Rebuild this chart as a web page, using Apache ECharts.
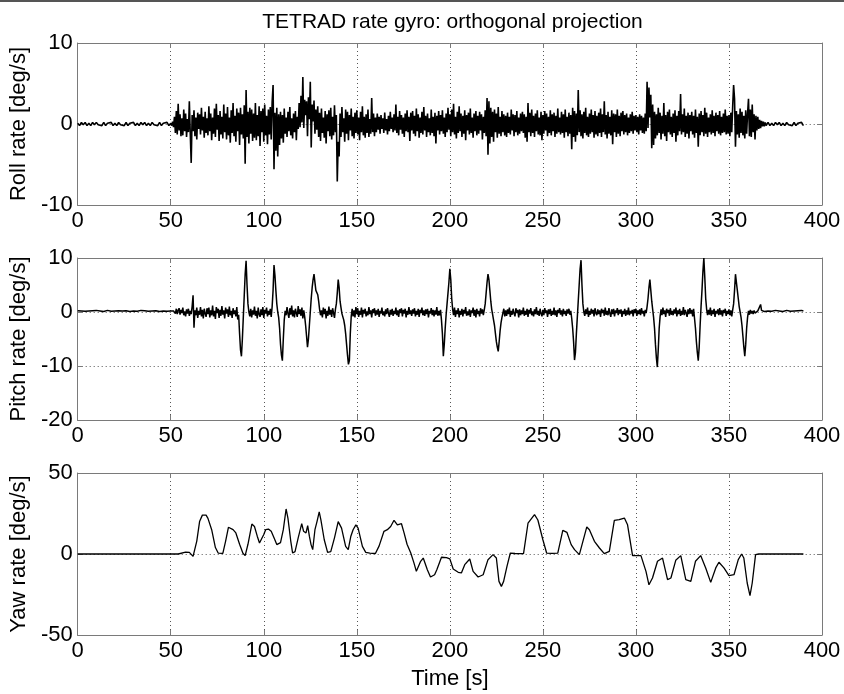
<!DOCTYPE html>
<html><head><meta charset="utf-8">
<script src="https://cdn.jsdelivr.net/npm/echarts@6/dist/echarts.min.js"></script>
<style>html,body{margin:0;padding:0;background:#fff}#c{width:844px;height:694px}</style>
</head><body><div id="c"></div>
<script>
// ---------- text ----------
const chartTitle = 'TETRAD rate gyro: orthogonal projection';
const yNames = ['Roll rate [deg/s]', 'Pitch rate [deg/s]', 'Yaw rate [deg/s]'];
const xName = 'Time [s]';

// ---------- axis ranges / ticks ----------
const xMin = 0, xMax = 400, xStep = 50;
const rollAxis = [-10, 10, 10];
const pitchAxis = [-20, 10, 10];
const yawAxis = [-50, 50, 50];

// ---------- roll rate ----------
// quiet part, t = 0..49 s, 1 s apart
const rollQuietHead = [0.1,-0.2,0.2,-0.1,0.2,-0.2,0.1,-0.2,0.2,-0.1,
 0.2,-0.1,0.1,-0.2,0.2,-0.2,0.1,-0.1,0.2,-0.2,
 0.1,-0.2,0.2,-0.1,0.1,-0.2,0.2,-0.2,0.1,-0.1,
 0.2,-0.2,0.1,-0.2,0.2,-0.1,0.2,-0.2,0.1,-0.2,
 0.2,-0.1,0.1,-0.2,0.2,-0.2,0.1,-0.1,0.2,-0.2];
// active part, t = 50..370 s, 0.5 s apart
const rollActive = [
 0.1,-0.2,0.3,-0.4,0.9,-1.1,1.6,-1.3,2.5,-0.8,1.2,-1.5,0.7,-1.4,1.8,-0.9,1.3,-1.6,0.6,-1.0,
 2.8,-1.2,-4.8,1.1,-0.9,1.7,-1.5,0.8,-1.9,1.4,-0.6,1.2,-1.3,2.0,-0.8,0.9,-1.7,1.5,-1.1,0.7,
 -1.4,2.2,-0.9,1.3,-2.0,0.8,-1.2,1.9,-1.6,2.5,-0.7,1.1,-2.1,1.6,-1.3,0.9,-1.8,2.4,-1.0,1.3,
 -1.9,2.1,-1.4,0.8,-2.3,1.7,-1.1,2.6,-1.5,1.0,-2.2,1.9,-0.9,1.4,-2.6,2.0,-1.3,1.2,-1.8,2.3,
 -4.9,4.2,-1.6,1.5,-2.4,2.0,-1.2,1.8,-2.1,1.3,-1.7,2.6,-2.0,1.1,-1.5,2.2,-2.7,1.6,-1.0,1.9,
 -2.2,2.4,-1.4,1.0,-2.5,1.8,-1.3,2.1,-1.9,2.7,4.8,-5.6,1.4,-3.3,2.0,-4.0,1.2,-2.6,1.5,-1.8,
 1.1,-2.3,1.9,-1.2,0.8,-1.6,1.5,-0.9,2.1,-1.4,0.7,-1.8,1.3,-1.0,1.6,-2.0,0.9,-0.6,2.6,-0.4,
 3.5,0.2,5.8,-0.5,3.0,1.1,2.8,-1.5,3.3,0.6,5.2,-2.9,2.4,0.3,2.9,-1.2,1.8,-0.7,2.2,-1.6,
 1.4,-2.1,1.9,-1.1,0.8,-1.7,1.6,-2.4,1.2,-0.9,1.7,-1.5,2.0,-1.9,0.9,-1.4,2.3,-1.0,1.1,-7.1,
 -2.2,-4.0,1.3,-1.6,2.1,-1.0,0.7,-2.2,1.8,-1.2,1.5,-2.0,1.1,-0.8,1.9,-1.5,0.9,-1.8,1.4,-1.1,
 1.7,-1.3,0.8,-2.0,1.5,-1.0,2.2,-1.4,0.9,-1.7,1.2,-1.1,1.8,-1.6,0.6,-1.2,3.2,-1.0,1.3,-1.5,
 0.8,-1.0,1.3,-0.7,0.9,-1.2,1.1,-0.6,0.7,-1.1,1.4,-0.8,0.6,-1.3,1.0,-0.9,1.5,-0.6,0.8,-1.0,
 1.2,-0.8,2.4,-1.1,0.9,-1.4,1.6,-0.7,1.1,-1.2,0.8,-1.6,1.3,-0.9,1.7,-1.0,0.9,-2.1,1.4,-0.8,
 1.6,-1.2,1.0,-1.5,1.9,-0.9,1.2,-1.7,0.8,-1.1,1.5,-1.3,2.1,-0.8,1.0,-1.6,1.3,-1.0,0.7,-1.4,
 1.8,-1.1,0.9,-1.5,1.4,-2.4,1.0,-0.8,1.6,-1.3,1.1,-0.9,1.7,-1.2,0.8,-1.6,1.3,-1.0,2.0,-0.7,
 1.2,-1.5,1.8,-1.0,2.5,-1.3,0.9,-1.8,1.5,-1.1,2.2,-0.9,1.3,-1.6,1.0,-1.2,1.7,-2.0,1.1,-0.8,
 1.4,-1.3,1.9,-1.1,0.8,-1.7,1.3,-0.9,1.6,-1.4,1.0,-1.2,1.5,-0.8,1.2,-1.9,0.9,-1.1,1.7,-1.5,
 3.2,-3.8,2.8,-2.4,2.0,-1.6,1.5,-2.2,1.8,-1.0,1.3,-1.7,2.1,-1.2,0.9,-1.5,1.6,-1.0,1.2,-1.4,
 1.0,-1.6,1.4,-1.1,0.9,-1.3,1.8,-0.8,1.2,-1.5,1.1,-1.0,1.6,-1.4,0.8,-1.2,1.3,-0.9,1.5,-1.1,
 1.2,-1.7,0.9,-2.2,2.6,-1.0,1.4,-1.5,1.8,-1.1,1.0,-1.6,1.3,-0.9,1.7,-1.3,0.8,-1.4,1.5,-2.0,
 1.1,-1.2,1.6,-0.8,1.3,-1.5,0.9,-1.1,1.7,-1.4,1.2,-0.9,1.4,-1.6,1.0,-1.2,1.9,-1.0,0.8,-1.3,
 1.5,-1.1,1.2,-1.7,1.8,-1.0,0.9,-1.5,1.4,-1.2,1.1,-3.1,2.0,-1.6,1.6,-2.2,1.3,-1.4,4.2,-1.0,
 1.7,-1.5,1.2,-1.8,1.5,-1.1,2.0,-1.4,0.9,-1.6,1.3,-1.2,1.8,-1.0,1.1,-1.7,1.6,-1.3,1.0,-1.5,
 1.4,-1.1,1.9,-1.6,1.2,-1.0,2.8,-1.3,1.1,-1.8,1.5,-1.2,0.9,-1.4,1.7,-2.5,1.3,-1.0,1.2,-1.6,
 1.8,-1.2,1.0,-1.5,1.4,-0.9,1.6,-1.3,1.1,-1.0,1.3,-1.4,0.8,-1.1,1.2,-0.9,1.5,-1.2,1.0,-0.8,
 1.1,-1.0,0.9,-1.3,1.2,-0.8,1.0,-1.1,0.8,-1.2,1.3,-0.9,5.2,-0.5,4.5,0.8,3.6,-3.0,2.4,-2.6,
 1.5,-1.8,1.2,-1.4,2.0,-1.1,1.4,-1.9,1.0,-1.2,2.6,-1.5,1.1,-2.1,1.5,-1.0,1.8,-1.3,0.9,-1.6,
 1.3,-1.1,1.7,-2.2,1.0,-1.4,1.6,-0.9,3.7,-1.3,1.2,-1.0,1.9,-1.6,1.0,-1.2,1.4,-1.8,1.1,-0.9,
 1.5,-1.3,1.0,-1.7,1.8,-1.1,0.9,-2.8,1.3,-1.4,1.6,-1.0,1.1,-1.5,2.0,-1.2,1.4,-1.6,0.8,-1.0,
 1.2,-1.3,1.7,-1.1,1.0,-1.5,1.4,-0.9,1.1,-1.2,1.6,-1.4,0.9,-1.1,1.3,-1.0,1.8,-1.3,1.0,-1.2,
 1.1,-1.5,1.4,-1.0,2.2,4.8,3.1,-2.8,1.6,-1.3,1.2,-1.7,1.9,-1.1,1.5,-1.4,1.0,-1.8,1.7,-1.2,
 1.3,3.1,-1.5,1.8,-1.6,2.4,-1.0,1.2,-1.9,1.0,-0.8,0.9,-0.6,0.5,-0.5,0.4,-0.3,0.3,-0.3,0.2,
 -0.2];
// quiet part, t = 371..390 s, 1 s apart
const rollQuietTail = [0.2,-0.2,0.1,-0.2,0.2,-0.1,0.2,-0.2,0.1,-0.2,0.2,-0.1,0.1,-0.2,0.2,-0.2,0.1,-0.1,0.2,-0.2];

// ---------- pitch rate ----------
const pitchQuietHead = [0.25,0.15,0.2,0.3,0.15,0.25,0.2,0.1,0.25,0.2,
 0.3,0.15,0.2,0.25,0.1,0.2,0.3,0.2,0.15,0.25,
 0.2,0.1,0.25,0.3,0.2,0.15,0.25,0.2,0.1,0.3,
 0.2,0.25,0.15,0.2,0.3,0.1,0.25,0.2,0.15,0.3,
 0.2,0.15,0.25,0.2,0.1,0.3,0.2,0.25,0.15,0.2];
const pitchActive = [
 0.2,0.1,0.3,0.2,0.5,-0.3,0.6,-0.4,0.3,0.7,-0.5,0.4,-0.2,0.8,-0.6,0.1,-0.8,0.5,-0.3,0.6,
 -0.7,0.2,-0.4,1.0,3.1,-2.9,0.3,-0.6,0.8,-1.1,0.2,-0.5,0.9,-0.8,0.4,-1.2,0.6,-0.3,-0.9,0.7,
 -0.4,0.8,-1.0,0.3,-0.6,1.2,-0.8,0.2,-1.3,0.9,-0.2,0.6,-1.1,0.4,-0.7,1.1,-0.5,0.3,-1.2,0.8,
 -0.3,0.5,-0.9,1.0,-0.6,0.2,-1.1,0.7,-0.4,0.3,-0.8,0.9,-1.4,-0.5,-4.0,-7.0,-8.2,-5.0,-1.0,3.0,
 7.0,9.5,5.0,1.5,0.0,-0.8,0.6,-1.0,0.3,-0.5,1.0,-0.7,0.2,-1.2,0.8,-0.4,-0.9,0.5,-0.6,0.9,
 -1.1,0.4,-0.3,0.8,-0.8,0.2,-0.5,0.6,-0.9,1.0,4.0,8.7,6.8,4.0,1.5,0.0,-1.0,-3.0,-6.0,-8.0,
 -9.0,-5.0,-1.5,0.2,-0.6,0.9,-0.3,-1.1,0.7,-0.5,1.2,-0.8,0.3,-1.0,0.6,-0.2,-0.9,1.1,-0.4,0.5,
 -0.7,0.8,-1.2,0.3,-0.9,-2.5,-4.5,-6.5,-5.0,-2.5,0.0,2.5,4.5,6.0,7.0,5.5,4.0,3.8,3.2,2.0,
 0.5,-0.6,0.3,-1.0,0.8,-0.4,0.6,-1.2,0.2,-0.7,1.0,-0.5,0.4,-0.9,0.7,-0.2,-1.1,0.5,1.5,3.5,
 6.0,4.5,2.0,0.8,-0.3,-0.6,-1.5,-2.5,-4.0,-6.0,-8.0,-9.7,-9.0,-4.0,-0.8,0.6,-0.8,0.3,-1.0,0.9,
 -0.4,0.7,-0.9,0.2,-0.5,0.8,-1.0,0.4,-0.3,0.6,-0.8,0.1,-0.6,0.9,-0.4,0.3,-1.0,0.5,-0.2,0.7,
 -0.7,0.3,-0.5,0.6,-0.9,0.2,-0.3,0.8,-0.6,0.1,-0.8,0.5,-0.4,0.7,-0.2,-0.9,0.4,-0.5,0.6,-0.7,
 0.2,-0.4,0.8,-0.6,0.3,-0.9,0.5,-0.2,0.7,-0.8,0.4,-0.3,0.6,-1.0,0.2,-0.5,0.9,-0.4,0.3,-0.7,
 0.5,-0.3,0.7,-0.8,0.2,-0.5,0.6,-0.9,0.4,-0.2,0.8,-0.6,0.3,-0.7,0.5,-0.4,0.6,-1.0,0.2,-0.3,
 0.7,-0.6,0.4,-0.8,0.3,-0.5,0.9,-0.7,0.2,-0.6,0.4,-1.5,-4.0,-8.2,-6.0,-3.0,-0.5,1.5,3.5,5.5,
 8.0,6.0,2.5,0.5,-0.6,0.8,-0.9,0.3,-0.4,0.7,-1.0,0.2,-0.5,0.6,-0.8,0.4,-0.3,0.9,-0.7,0.1,
 -0.6,0.5,-0.9,0.3,-0.2,0.8,-0.7,0.4,-1.0,0.6,-0.4,0.2,-0.8,0.7,-0.3,0.5,-0.6,0.4,1.5,3.5,
 5.5,7.0,6.0,4.0,2.0,0.5,-0.5,-1.5,-2.5,-4.0,-5.5,-6.5,-7.3,-5.5,-3.5,-2.0,-1.0,-0.2,0.6,-0.8,
 0.3,-0.7,0.5,-0.4,0.8,-0.9,0.2,-0.5,0.6,-0.3,-0.8,0.7,-0.2,0.4,-1.0,0.5,-0.6,0.3,-0.4,0.8,
 -0.7,0.2,-0.5,0.6,-0.9,0.4,-0.3,0.7,-0.6,0.1,-0.8,0.5,-0.4,0.9,-0.5,0.2,-0.7,0.6,-0.3,-0.8,
 0.4,-0.6,0.7,-0.2,0.3,-0.9,0.5,-0.4,0.6,-0.7,0.2,-0.5,0.8,-0.6,0.3,-0.9,0.4,-0.2,0.7,-0.5,
 0.3,-0.8,0.6,-0.4,0.2,-0.7,0.5,-0.3,0.6,-0.5,0.2,-1.2,-3.0,-5.5,-8.9,-7.5,-4.0,-1.0,2.0,5.0,
 8.0,9.6,5.0,1.5,0.0,-0.7,0.5,-0.4,0.8,-0.9,0.2,-0.5,0.6,-0.3,0.4,-0.8,0.7,-0.2,-0.6,0.5,
 -0.4,0.3,-0.9,0.6,-0.2,0.4,-0.7,0.8,-0.5,0.2,-0.6,0.7,-0.3,-0.9,0.5,-0.4,0.6,-0.8,0.3,-0.2,
 0.7,-0.6,0.4,-0.3,0.5,-0.9,0.2,-0.4,0.6,-0.7,0.3,-0.5,0.8,-0.6,0.2,-0.3,0.4,-0.8,0.5,-0.2,
 0.6,-0.7,0.3,-0.4,0.5,-0.6,0.7,-0.3,0.2,-0.8,0.4,-0.2,1.0,2.5,4.5,6.0,4.0,2.0,0.5,-1.0,
 -3.0,-6.0,-8.5,-10.2,-7.0,-3.0,-0.8,0.5,-0.6,0.8,-0.4,0.3,-0.9,0.6,-0.2,0.4,-0.7,0.7,-0.5,0.2,
 -0.6,0.5,-0.3,0.8,-0.8,0.3,-0.4,0.6,-0.7,0.2,-0.5,0.9,-0.6,0.4,-0.2,-0.9,0.5,-0.4,0.7,-0.3,
 0.4,-0.8,0.6,-1.2,-3.0,-5.5,-7.5,-9.0,-6.5,-2.5,1.0,4.0,7.5,10.0,6.5,2.5,0.5,-0.6,0.4,-0.5,
 0.8,-0.7,0.3,-0.4,0.6,-0.9,0.2,-0.3,0.5,-0.6,0.7,-0.5,0.3,-0.8,0.4,-0.2,0.6,-0.7,0.2,-0.4,
 0.5,-0.6,0.3,-0.8,0.4,1.5,4.0,7.0,5.5,4.0,2.5,1.0,0.0,-1.0,-2.5,-4.5,-6.5,-8.2,-6.0,-3.0,
 -1.0,0.2,-0.5,0.4,-0.3,0.2,-0.4,0.3,-0.2,0.1,-0.3,0.2,0.1,0.0,1.4,0.3,0.1,0.2,0.1,0.2,
 0.2];
const pitchQuietTail = [0.2,0.25,0.15,0.2,0.3,0.15,0.2,0.25,0.1,0.2,0.3,0.2,0.15,0.25,0.2,0.1,0.25,0.2,0.3,0.2];

// ---------- yaw rate (time [s], value [deg/s]) ----------
const yawTime = [0,54,55,58,60,61,62,63,64,65.5,67,69,70,72,74,75.5,78,79.5,81,83.5,85,87,88.8,90,91.5,93.6,95,96.5,97.7,98.6,
 100,101,102.5,104,105.5,107,109,110.5,112,113,114.5,115.5,116.8,118.5,120.4,121.4,122.7,123.6,124.5,125.4,126.3,127.5,128.6,129.8,130.7,132.5,134.3,136,138,140,
 141.8,144,145.4,146.8,148,149.5,150.7,153,154.8,157,160,162,164.6,166.4,168.2,170,171.8,174,175.4,177,179,180.7,182,184.3,185.7,187.9,189.6,191.8,193,195.5,
 198.2,200,201.8,204.5,206.2,208,210.7,212.5,215.2,217.9,220.5,223.2,225,226.4,227.7,228.9,230.7,232.5,235,239.6,242,245.5,247.3,250,252,255,258,260.7,262.9,265.2,
 267,269.6,270.5,273.6,275,277.7,280.4,283,285.7,288.4,291,293.8,295.5,298.2,302.7,305.4,307,308.9,311.6,314.3,317,318.8,321.4,324.1,326.8,329.5,332,334.8,337.5,340.2,
 342.9,344.6,347.3,350,352.7,355,356.8,358,359.8,361.3,362.5,364.3,366,390];
const yawValue = [0,0,1,1.2,1,0.5,-1.5,-0.5,8,20,24,24,22,15,4,0.6,0.4,8,16.5,15,13,6,0.5,-1,6,18.5,17,11,6.8,7.5,
 12,15,15.4,14,10,5.8,7,15,27.8,22,8,0.6,1.5,10,18.7,14,13,17.5,11,5.8,2.7,15,20,26,21,8.8,1,1.5,10,20,
 16,4.7,2.7,11,15,18,16,4.7,1,0.5,0.3,5,14,15,17,20.8,18,18.7,13,6,0.6,-5.5,-10.7,-4.5,-2.5,-9.7,-14.2,-12.8,-9.7,-2,
 -2.2,-3,-9.3,-11.3,-11.7,-6.6,-3.1,-10.7,-14.2,-12.8,-3.5,-0.4,-2.5,-16.9,-20,-16.9,-7.6,0.6,0.3,0.2,19,24.3,21,8.8,0.6,0.4,0.6,14.6,13.4,5.8,
 2.7,-0.4,0.5,16.7,15,7.8,3.7,0.2,1.6,20.8,21.2,22.2,18,-1,-1,-10.7,-19,-14.8,-4.5,-2.5,-15.8,-14.8,-3.9,-1,-15.8,-16.9,-4.5,-1,-8.6,-17.5,
 -8.6,-5.1,-8.6,-13.4,-12.8,-3.5,0,-2.5,-17.9,-25.7,-17.9,-0.4,0,0];

// ---------- build [t, v] pairs from sampled segments ----------
function segment(t0, dt, vals) { return vals.map((v, i) => [t0 + i * dt, v]); }
const rollData = [].concat(segment(0, 1, rollQuietHead), segment(50, 0.5, rollActive), segment(371, 1, rollQuietTail));
const pitchData = [].concat(segment(0, 1, pitchQuietHead), segment(50, 0.5, pitchActive), segment(371, 1, pitchQuietTail));
const yawData = yawTime.map((t, i) => [t, yawValue[i]]);

// ---------- layout ----------
const FONT = 'Liberation Sans, Arial, Helvetica, sans-serif';
const L = 73, R = 22, H = 162;
const tops = [43, 258, 473];
const boxColor = '#7a7a7a';
const gridDots = { type: [1, 3], color: '#555', width: 1 };

const grids = tops.map(t => ({ left: L, right: R, top: t, height: H, containLabel: false }));
const xAxes = [], yAxes = [];
const yDefs = [rollAxis, pitchAxis, yawAxis];
for (let i = 0; i < 3; i++) {
  xAxes.push({
    type: 'value', gridIndex: i, min: xMin, max: xMax, interval: xStep, position: 'bottom',
    axisLine: { show: true, onZero: false, lineStyle: { color: boxColor, width: 1 } },
    axisTick: { show: true, inside: true, length: 5, lineStyle: { color: boxColor } },
    axisLabel: { color: '#000', fontSize: 22, fontFamily: FONT, margin: 5, showMinLabel: true, showMaxLabel: true },
    splitLine: { show: true, lineStyle: gridDots },
    name: i === 2 ? xName : '', nameLocation: 'middle', nameGap: 33,
    nameTextStyle: { color: '#000', fontSize: 22, fontFamily: FONT }
  });
  xAxes.push({
    type: 'value', gridIndex: i, min: xMin, max: xMax, interval: xStep, position: 'top',
    axisLine: { show: true, onZero: false, lineStyle: { color: boxColor, width: 1 } },
    axisTick: { show: true, inside: true, length: 5, lineStyle: { color: boxColor } },
    axisLabel: { show: false }, splitLine: { show: false }
  });
  const d = yDefs[i];
  yAxes.push({
    type: 'value', gridIndex: i, min: d[0], max: d[1], interval: d[2], position: 'left',
    axisLine: { show: true, onZero: false, lineStyle: { color: boxColor, width: 1 } },
    axisTick: { show: true, inside: true, length: 5, lineStyle: { color: boxColor } },
    axisLabel: { color: '#000', fontSize: 22, fontFamily: FONT, margin: 5, showMinLabel: true, showMaxLabel: true },
    splitLine: { show: true, lineStyle: gridDots },
    name: yNames[i], nameLocation: 'middle', nameGap: 36, nameRotate: 90,
    nameTextStyle: { color: '#000', fontSize: 22, fontFamily: FONT }
  });
  yAxes.push({
    type: 'value', gridIndex: i, min: d[0], max: d[1], interval: d[2], position: 'right',
    axisLine: { show: true, onZero: false, lineStyle: { color: boxColor, width: 1 } },
    axisTick: { show: true, inside: true, length: 5, lineStyle: { color: boxColor } },
    axisLabel: { show: false }, splitLine: { show: false }
  });
}

const widths = [1.6, 1.5, 1.3];
const series = [rollData, pitchData, yawData].map((data, i) => ({
  type: 'line', xAxisIndex: i * 2, yAxisIndex: i * 2, data: data,
  showSymbol: false, symbol: 'none', lineStyle: { color: '#000', width: widths[i], join: 'bevel' },
  animation: false, z: 3, silent: true
}));

const chart = echarts.init(document.getElementById('c'), null, { renderer: 'canvas' });
chart.setOption({
  backgroundColor: '#fff',
  animation: false,
  title: {
    text: chartTitle, left: L + (844 - L - R) / 2, top: 7, textAlign: 'center',
    textStyle: { color: '#000', fontSize: 21, fontWeight: 'normal', fontFamily: FONT }
  },
  graphic: [{ type: 'line', shape: { x1: 0, y1: 1, x2: 844, y2: 1 }, style: { stroke: '#555', lineWidth: 2 } }],
  grid: grids, xAxis: xAxes, yAxis: yAxes, series: series
});
</script>
</body></html>
